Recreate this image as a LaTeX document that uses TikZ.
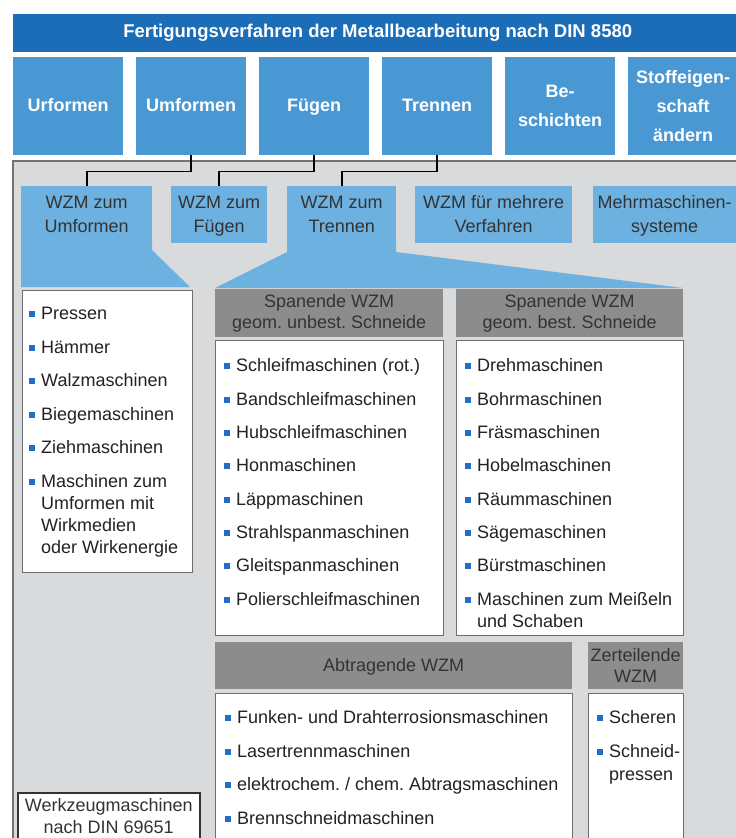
\documentclass[tikz,border=0pt]{standalone}
\usepackage{fontspec}
\setmainfont{Liberation Sans}
\frenchspacing
\definecolor{topblue}{HTML}{1A6DB6}
\definecolor{midblue}{HTML}{4A98D3}
\definecolor{lightblue}{HTML}{6CB1DF}
\definecolor{panelgray}{HTML}{D9DADC}
\definecolor{paneledge}{HTML}{737373}
\definecolor{hdrgray}{HTML}{8C8C8C}
\definecolor{boxedge}{HTML}{6E6E6E}
\definecolor{bulblue}{HTML}{1F6FC4}
\definecolor{txtdark}{HTML}{222222}
\definecolor{hdrtxt}{HTML}{333333}
\newcommand{\itm}[4]{%
  \node[bulsq] (#1b) at ({#2-9.5},{#3-5.5}) {};
  \node[itemtxt] (#1) at (#2,#3) {#4};}
\newcommand{\cnt}[4]{\node[itemtxt] (#1) at (#2,#3) {#4};}
\newcommand{\ph}{\vphantom{Üg}}
\newcommand{\pg}{\vphantom{g}}
\newcommand{\pu}{\vphantom{Ü}}
\begin{document}
\begin{tikzpicture}[x=1pt,y=-1pt,
  topbar/.style={fill=topblue,text=white,inner sep=0pt,anchor=north west,
    font=\fontsize{18.5}{22}\selectfont\bfseries},
  procbox/.style={fill=midblue,text=white,inner sep=0pt,anchor=north west,
    minimum width=110pt,minimum height=98pt,align=center,
    font=\fontsize{18}{29}\selectfont\bfseries},
  wzmbox/.style={fill=lightblue,text=hdrtxt,inner sep=0pt,anchor=north west,
    minimum height=57pt,align=center,font=\fontsize{18}{23.4}\selectfont},
  hdrbox/.style={fill=hdrgray,text=hdrtxt,inner sep=0pt,anchor=north west,
    align=center,font=\fontsize{18}{21}\selectfont},
  listbox/.style={fill=white,draw=boxedge,line width=1.2pt,inner sep=0pt,anchor=north west},
  itemtxt/.style={anchor=base west,inner sep=0pt,text=txtdark,font=\fontsize{18}{22}\selectfont},
  bulsq/.style={fill=bulblue,minimum size=6pt,inner sep=0pt},
  conn/.style={draw=black,line width=1.6pt}]
\useasboundingbox (0,0) rectangle (736,838);
\clip (0,0) rectangle (736,838);
\fill[white] (0,0) rectangle (736,838);
% title bar
\node[topbar,minimum width=729pt,minimum height=38pt] (top) at (13,14)
  {Fertigungsverfahren der Metallbearbeitung nach DIN 8580};
% process row
\node[procbox] (urf) at (13,57) {\ph Urformen};
\node[procbox] (umf) at (136,57) {\ph Umformen};
\node[procbox] (fue) at (259,57) {\ph Fügen};
\node[procbox] (tre) at (382,57) {\ph Trennen};
\node[procbox] (bes) at (505,57) {Be-\\schichten};
\node[procbox] (sto) at (628,57) {Stoffeigen-\\schaft\\ändern};
% gray panel
\path[fill=panelgray,draw=paneledge,line width=1.8pt] (13,161) rectangle (780,880);
% funnels
\fill[lightblue] (21,243) -- (152,243) -- (152,250) -- (190,287) -- (21,287) -- cycle;
\fill[lightblue] (287,243) -- (396,243) -- (396,252) -- (683,288) -- (215,288) -- (287,252) -- cycle;
% WZM row
\node[wzmbox,minimum width=131pt] (wzu) at (21,186) {\pu WZM zum\\Umformen\pg};
\node[wzmbox,minimum width=96pt] (wzf) at (171,186) {\pu WZM zum\\Fügen\pg};
\node[wzmbox,minimum width=109pt] (wzt) at (287,186) {\pu WZM zum\\Trennen\pg};
\node[wzmbox,minimum width=157pt] (wzv) at (415,186) {\pu WZM für mehrere\\Verfahren\pg};
\node[wzmbox,minimum width=143pt] (mms) at (593,186) {\pu Mehrmaschinen-\\systeme\pg};
% connectors
\draw[conn] (umf.south) -- ++(0,16) -| (wzu.north);
\draw[conn] (fue.south) -- ++(0,16) -| (wzf.north);
\draw[conn] (tre.south) -- ++(0,16) -| (wzt.north);
% headers
\node[hdrbox,minimum width=228pt,minimum height=48pt] (hu) at (215,289) {Spanende WZM\\geom. unbest. Schneide};
\node[hdrbox,minimum width=227pt,minimum height=48pt] (hb) at (456,289) {Spanende WZM\\geom. best. Schneide};
\node[hdrbox,minimum width=357pt,minimum height=47pt] (ha) at (215,642) {\ph Abtragende WZM};
\node[hdrbox,minimum width=95pt,minimum height=47pt] (hz) at (588,642) {Zerteilende\\WZM};
% list boxes
\node[listbox,minimum width=170pt,minimum height=282pt] (lum) at (22,290) {};
\node[listbox,minimum width=228pt,minimum height=295pt] (lu) at (215,340) {};
\node[listbox,minimum width=227pt,minimum height=295pt] (lb) at (456,340) {};
\node[listbox,minimum width=357pt,minimum height=170pt] (la) at (215,693) {};
\node[listbox,minimum width=95pt,minimum height=170pt] (lz) at (588,693) {};
% Umformen items
\itm{u1}{41}{319.5}{Pressen}
\itm{u2}{41}{353}{Hämmer}
\itm{u3}{41}{386.5}{Walzmaschinen}
\itm{u4}{41}{420}{Biegemaschinen}
\itm{u5}{41}{453.5}{Ziehmaschinen}
\itm{u6}{41}{487}{Maschinen zum}
\cnt{u6a}{41}{509}{Umformen mit}
\cnt{u6b}{41}{531}{Wirkmedien}
\cnt{u6c}{41}{553}{oder Wirkenergie}
% unbestimmte Schneide
\itm{s1}{236}{371.5}{Schleifmaschinen (rot.)}
\itm{s2}{236}{405}{Bandschleifmaschinen}
\itm{s3}{236}{438}{Hubschleifmaschinen}
\itm{s4}{236}{471.5}{Honmaschinen}
\itm{s5}{236}{505}{Läppmaschinen}
\itm{s6}{236}{538}{Strahlspanmaschinen}
\itm{s7}{236}{571.5}{Gleitspanmaschinen}
\itm{s8}{236}{605}{Polierschleifmaschinen}
% bestimmte Schneide
\itm{b1}{477}{371.5}{Drehmaschinen}
\itm{b2}{477}{405}{Bohrmaschinen}
\itm{b3}{477}{438}{Fräsmaschinen}
\itm{b4}{477}{471.5}{Hobelmaschinen}
\itm{b5}{477}{505}{Räummaschinen}
\itm{b6}{477}{538}{Sägemaschinen}
\itm{b7}{477}{571.5}{Bürstmaschinen}
\itm{b8}{477}{605}{Maschinen zum Meißeln}
\cnt{b8a}{477}{627.5}{und Schaben}
% Abtragende
\itm{a1}{237}{723.5}{Funken- und Drahterrosionsmaschinen}
\itm{a2}{237}{757}{Lasertrennmaschinen}
\itm{a3}{237}{790}{elektrochem. / chem. Abtragsmaschinen}
\itm{a4}{237}{824}{Brennschneidmaschinen}
% Zerteilende
\itm{z1}{609}{723.5}{Scheren}
\itm{z2}{609}{757}{Schneid-}
\cnt{z2a}{609}{780}{pressen}
% legend box
\node[fill=white,draw=hdrtxt,line width=1.5pt,inner sep=0pt,anchor=north west,
  minimum width=182pt,minimum height=47pt,align=center,text=hdrtxt,
  font=\fontsize{18}{21.5}\selectfont] (din) at (17,792) {Werkzeugmaschinen\\nach DIN 69651};
\end{tikzpicture}
\end{document}
